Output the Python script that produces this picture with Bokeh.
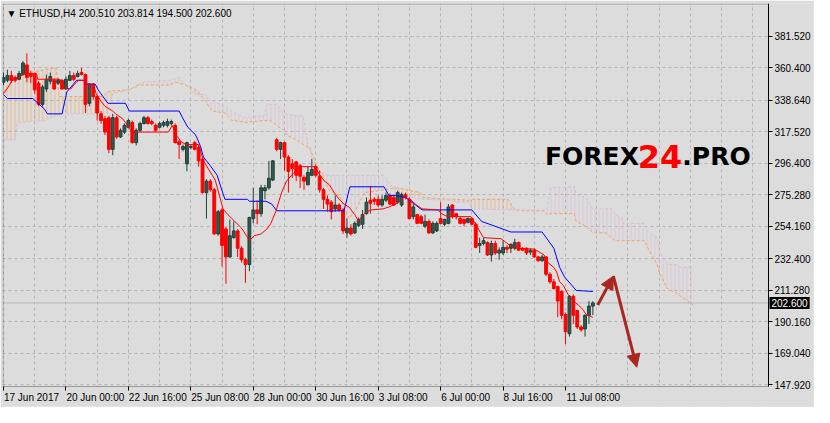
import numpy as np
import pandas as pd
from bokeh.plotting import figure
from bokeh.models import (Range1d, LinearAxis, FixedTicker, PrintfTickFormatter, Label,
                          Arrow, NormalHead, ColumnDataSource, Grid, BoxAnnotation)
from bokeh.embed import file_html
from bokeh.resources import INLINE

# ---------------- data ----------------
symbol = "ETHUSD,H4"
first_bar_time = "2017-06-17 08:00"

open_ = [350.6, 351.9, 355.1, 353.8, 352.6, 355.8, 362.2, 356.4, 355.8, 350.0,
         335.8, 346.1, 351.3, 351.9, 350.0, 351.9, 346.1, 351.9, 355.1, 354.5,
         357.1, 355.8, 336.5, 349.3, 341.0, 329.4, 326.2, 326.8, 305.6, 326.8,
         313.9, 317.2, 320.4, 323.6, 310.1, 318.4, 322.9, 326.8, 324.2, 321.7,
         320.4, 321.7, 321.7, 322.9, 321.7, 310.7, 305.6, 295.9, 306.9, 310.1,
         306.9, 299.1, 276.6, 284.3, 278.5, 248.9, 265.0, 252.2, 233.5, 246.4,
         250.9, 239.3, 231.6, 228.4, 259.2, 265.0, 262.5, 277.9, 279.8, 285.0,
         312.0, 305.6, 310.1, 300.4, 295.9, 297.2, 294.6, 286.9, 281.8, 288.2,
         294.0, 287.6, 278.5, 272.1, 270.2, 265.7, 268.3, 265.0, 249.6, 252.8,
         249.6, 254.7, 255.4, 262.5, 271.5, 272.1, 272.1, 268.3, 271.5, 274.7,
         273.4, 270.2, 268.3, 275.3, 272.1, 260.5, 261.8, 260.5, 254.1, 257.3,
         249.6, 250.9, 259.2, 255.4, 256.0, 268.3, 262.5, 259.2, 258.6, 256.7,
         259.2, 255.4, 241.2, 242.5, 243.2, 234.8, 242.5, 236.1, 236.1, 239.9,
         239.3, 239.3, 243.2, 239.3, 239.3, 236.7, 238.0, 233.5, 230.9, 233.5,
         221.9, 216.8, 213.6, 210.3, 194.9, 182.0, 207.1, 197.5, 186.5, 185.2,
         194.3, 200.51]
high = [357.1, 359.0, 358.3, 355.1, 358.3, 364.8, 369.9, 358.3, 357.1, 351.3,
        348.7, 355.8, 357.1, 353.2, 353.2, 352.6, 354.5, 358.3, 357.1, 358.3,
        360.3, 356.4, 350.0, 350.0, 342.3, 331.3, 328.1, 328.1, 329.4, 328.1,
        319.7, 322.9, 326.2, 324.9, 319.7, 324.2, 328.1, 328.1, 325.5, 322.9,
        324.2, 324.9, 326.2, 325.5, 322.9, 312.0, 308.8, 310.7, 308.8, 311.4,
        308.2, 300.4, 285.6, 285.6, 279.8, 265.0, 266.3, 253.5, 258.6, 257.3,
        252.2, 240.6, 232.9, 260.5, 279.8, 271.5, 281.8, 281.8, 297.9, 298.5,
        313.3, 310.7, 310.7, 301.7, 299.1, 297.9, 295.9, 288.2, 294.0, 299.1,
        295.3, 291.4, 279.8, 274.7, 271.5, 274.7, 269.5, 266.3, 259.2, 255.4,
        257.3, 259.9, 265.0, 273.4, 281.1, 273.4, 274.7, 274.7, 276.6, 276.0,
        274.7, 277.9, 276.6, 276.6, 273.4, 268.9, 262.5, 261.8, 261.8, 258.6,
        257.3, 257.3, 270.2, 259.2, 268.9, 268.9, 263.1, 260.5, 259.2, 259.9,
        259.9, 256.7, 246.4, 246.4, 243.8, 244.4, 244.4, 239.9, 244.4, 241.2,
        242.5, 245.7, 243.8, 239.9, 239.9, 239.3, 239.3, 234.2, 234.8, 234.0,
        223.2, 218.7, 214.2, 211.0, 196.2, 207.8, 208.4, 198.1, 187.8, 194.9,
        203.9, 203.814]
low = [348.7, 350.6, 350.0, 350.6, 351.9, 355.1, 350.6, 350.0, 342.9, 334.5,
       334.5, 344.2, 349.3, 345.5, 348.7, 345.5, 345.5, 351.3, 351.3, 353.8,
       355.1, 330.0, 334.5, 339.0, 324.9, 322.9, 315.2, 303.0, 301.7, 312.7,
       313.3, 315.9, 319.7, 309.5, 308.2, 317.2, 322.3, 322.3, 321.7, 317.2,
       319.7, 320.4, 320.4, 321.7, 309.5, 299.1, 304.3, 290.8, 305.6, 304.9,
       294.0, 276.0, 259.2, 277.3, 248.3, 247.7, 227.1, 215.5, 232.9, 245.7,
       233.5, 229.6, 216.1, 223.9, 256.0, 255.4, 260.5, 272.1, 278.5, 284.3,
       304.3, 299.1, 291.4, 276.6, 286.3, 284.3, 279.8, 278.5, 281.8, 287.6,
       286.9, 276.6, 265.7, 263.8, 258.6, 263.8, 263.8, 248.9, 246.4, 247.7,
       248.9, 253.5, 252.2, 261.8, 262.5, 268.3, 267.0, 267.0, 270.2, 268.3,
       267.6, 268.9, 267.0, 272.1, 258.6, 258.6, 255.4, 255.4, 252.8, 248.9,
       248.9, 250.2, 255.4, 254.1, 255.4, 259.2, 258.6, 255.4, 254.1, 256.0,
       254.7, 239.3, 236.1, 241.2, 234.2, 230.3, 234.8, 231.6, 234.8, 236.1,
       236.1, 238.0, 237.4, 237.4, 234.8, 234.8, 232.9, 230.3, 230.3, 220.6,
       215.5, 211.6, 193.0, 191.7, 175.0, 180.1, 188.5, 185.2, 183.3, 180.1,
       188.5, 194.5]
close = [353.8, 355.1, 351.9, 351.9, 356.4, 363.5, 353.8, 354.5, 345.5, 335.8,
         347.4, 352.6, 354.5, 346.1, 351.9, 346.1, 352.6, 355.1, 352.6, 356.4,
         355.8, 335.8, 349.3, 341.0, 330.0, 324.9, 317.2, 305.6, 326.8, 313.9,
         318.4, 321.7, 324.9, 310.1, 318.4, 322.9, 326.8, 322.9, 322.9, 318.4,
         322.9, 323.6, 324.2, 324.2, 310.1, 308.8, 307.5, 310.1, 307.5, 305.6,
         297.9, 276.6, 284.3, 278.5, 248.9, 263.8, 241.2, 233.5, 247.7, 250.9,
         239.3, 231.6, 228.4, 259.9, 265.0, 262.5, 279.8, 279.8, 286.3, 297.9,
         305.6, 310.1, 300.4, 290.8, 292.7, 288.2, 287.6, 284.3, 290.1, 292.1,
         288.2, 278.5, 272.1, 268.9, 263.8, 268.3, 265.0, 250.9, 252.8, 248.9,
         256.0, 258.6, 261.8, 270.2, 269.5, 270.8, 268.3, 272.1, 274.7, 268.9,
         268.3, 276.6, 275.3, 273.4, 259.2, 267.0, 256.0, 256.0, 257.3, 249.6,
         256.0, 256.0, 256.0, 258.6, 267.0, 260.5, 260.5, 256.0, 256.0, 259.2,
         255.4, 239.9, 242.5, 244.4, 234.8, 242.5, 236.1, 238.0, 239.9, 238.7,
         241.9, 243.2, 238.0, 238.0, 236.1, 238.0, 233.5, 230.9, 233.5, 221.9,
         216.8, 212.3, 203.9, 194.3, 183.3, 207.1, 194.3, 186.5, 184.6, 194.3,
         200.5, 202.6]

# Ichimoku lines, read at their break points (bar index, price)
tenkan_bar = [0, 1.25, 2.25, 3, 5.5, 8.5, 8.75, 14.25, 14.75, 15.5, 17.25, 18, 19.25, 20.5, 21.25,
              23, 23.75, 25, 26, 28, 28.75, 30.5, 31.25, 32.25, 33, 42.25, 43.25, 44.25, 45.5,
              46.75, 50, 50.5, 51.25, 53.5, 54.25, 56.25, 57.5, 59.25, 61, 62.25, 63, 64.25, 66,
              67.5, 68.5, 69.75, 71.25, 72.5, 74.25, 76, 79.75, 81.25, 82.25, 83.5, 84.75, 86,
              87.25, 88.5, 90, 91, 91.75, 93, 94.25, 97.25, 98.75, 100.5, 102.5, 104.25, 105.5,
              107.25, 111.25, 112.25, 113.75, 119.75, 121, 122.25, 123, 127.5, 129.75, 131, 136,
              138.5, 139.25, 141, 141.75, 142.5, 143.5, 144.75, 146, 147.25, 148.5, 149.25, 151]
tenkan_val = [342.9, 347.4, 351.9, 352.6, 356.4, 356.4, 352.6, 352.6, 351.9, 346.8, 346.1, 348.7,
              351.9, 351.9, 349.3, 349.3, 342.9, 337.8, 334.5, 331.3, 329.4, 326.2, 323.6, 319.7,
              317.2, 317.2, 321.7, 315.2, 310.7, 308.8, 308.8, 304.3, 297.9, 288.2, 285.0, 265.7,
              261.8, 257.3, 252.8, 247.7, 244.4, 247.7, 248.9, 252.2, 256.0, 263.8, 276.6, 284.3,
              289.5, 294.0, 294.0, 287.6, 284.3, 281.8, 276.6, 272.1, 268.9, 267.0, 261.8, 257.3,
              260.5, 263.8, 265.0, 265.7, 267.0, 268.9, 273.4, 272.1, 268.9, 265.7, 265.0, 262.5,
              260.5, 260.5, 255.4, 249.6, 246.4, 245.7, 241.2, 239.3, 238.7, 234.8, 230.3, 226.4,
              223.2, 216.8, 214.2, 207.8, 203.9, 201.3, 198.1, 194.9, 193.0]
kijun_bar = [0, 1, 7.5, 10.5, 11.25, 15, 16.25, 18.75, 20.5, 21.25, 23.5, 24.25, 26.75, 31.25,
             32.25, 45, 46, 47.25, 49.25, 50.5, 51.25, 53, 54.75, 55.75, 56.75, 62.5, 63, 67.25,
             68.75, 70, 87.25, 88.75, 97.5, 98.75, 100.5, 103, 107.25, 120, 122.5, 130, 138, 141,
             142.5, 143.75, 146.75, 151]
kijun_val = [342.3, 339.7, 339.7, 332.6, 329.4, 329.4, 344.2, 351.9, 351.9, 349.3, 349.3, 345.5,
             336.5, 336.5, 331.3, 331.3, 326.2, 320.4, 315.2, 307.5, 300.4, 294.6, 288.2, 279.8,
             272.1, 272.1, 270.8, 270.8, 268.9, 264.4, 264.4, 280.5, 280.5, 274.7, 274.7, 273.4,
             265.0, 265.0, 257.3, 250.2, 250.2, 239.3, 226.4, 220.0, 211.0, 210.3]
cloud_bar = [0, 1.75, 3, 3.5, 4.25, 6.75, 10.5, 13.5, 14.25, 25.5, 26.75, 28, 32.5, 34.25, 35.5,
             39.25, 42.5, 44.25, 45, 46.75, 49.25, 51.75, 53.5, 56.75, 58.5, 59.25, 61.75, 66.75,
             67.5, 68.5, 70, 71.75, 72.5, 75, 76.75, 78, 78.5, 80, 81, 83.5, 86, 88.5, 90, 92.5,
             97.5, 99.25, 101, 106.75, 107.5, 114.25, 116, 119.25, 120, 129.25, 131, 134.25, 138.5,
             139.25, 140, 146.25, 146.75, 149.25, 150, 151, 154.25, 156, 156.75, 158.5, 158.75,
             164.25, 165, 166, 167.5, 168, 169.25, 170, 172.5, 173.5, 176, 176.75]
span_a = [344.2, 350.6, 353.8, 354.5, 355.1, 357.1, 359.0, 360.3, 341.0, 341.0, 344.2, 344.8,
          345.5, 348.7, 348.7, 348.7, 348.7, 350.6, 350.0, 348.7, 345.5, 337.8, 331.3, 330.0,
          324.9, 324.9, 323.6, 324.9, 324.9, 324.9, 321.7, 318.4, 315.2, 312.0, 308.8, 306.9,
          306.9, 295.9, 291.4, 277.9, 274.7, 259.2, 263.8, 276.6, 278.5, 279.2, 279.8, 276.6,
          273.4, 272.1, 272.1, 271.5, 272.1, 272.1, 265.0, 264.4, 264.4, 261.8, 262.5, 262.5,
          257.3, 254.1, 252.2, 249.6, 249.6, 245.7, 244.4, 244.4, 244.4, 244.4, 239.9, 234.8,
          228.4, 223.2, 216.8, 212.3, 209.1, 207.1, 202.6, 201.3]
span_b = [312.0, 312.0, 312.0, 323.6, 323.6, 324.2, 324.9, 328.1, 329.4, 329.4, 329.4, 342.9,
          346.1, 347.4, 350.6, 351.3, 351.9, 353.2, 353.8, 348.7, 342.3, 342.3, 337.8, 334.5,
          331.3, 330.0, 326.8, 328.1, 335.8, 335.8, 335.8, 330.0, 329.4, 328.1, 328.1, 308.8,
          305.6, 288.2, 288.2, 288.2, 288.2, 288.2, 288.2, 288.2, 288.2, 281.8, 276.6, 272.1,
          272.1, 271.5, 270.2, 270.2, 265.7, 265.0, 265.0, 265.0, 265.0, 265.0, 279.8, 280.5,
          275.3, 273.4, 270.2, 265.7, 265.7, 265.7, 261.8, 259.2, 256.0, 256.0, 250.9, 248.9,
          246.4, 236.7, 232.9, 228.4, 228.4, 226.4, 226.4, 226.4]

# drawn forecast (arrows): bar index and price of the three points
forecast_bar = [152.25, 156.25, 162.25]
forecast_price = [201.3, 220.6, 159.5]

# price scale labels
price_ticks = [147.92, 169.04, 190.16, 211.28, 232.40, 254.16, 275.28, 296.40,
               317.52, 338.64, 360.40, 381.52]

# ---------------- layout / style ----------------
BG = "#DCDCDC"
GRID = "#B4B4B4"
BULL = "#2E5B4B"
BULL_LINE = "#22403A"
BEAR = "#FF0000"
ORANGE = "#F4A460"
THISTLE = "#D8BFD8"
ARROW = "#A8271F"
FONT = "Liberation Sans"

W, H = 814, 407
LB, RB, TB, BB = 2, 1, 3, 1
FW = W - LB - RB                 # frame hosts the chart plus both scales
FH = H - TB - BB
CW, CH = 766, 383                # chart area (inside the black border)
x0, xc = -0.25, 196.0            # chart spans bars x0 .. xc
yc, y1 = 146.6, 403.4            # chart spans prices yc .. y1
ppb = CW / (xc - x0)
ppu = CH / (y1 - yc)
x1 = x0 + FW / ppb
y0 = y1 - FH / ppu

n = len(close)
bars = np.arange(n)
o = np.array(open_); h = np.array(high); l = np.array(low); c = np.array(close)
up = c >= o

p = figure(width=W, height=H, x_range=Range1d(x0, x1), y_range=Range1d(y0, y1),
           output_backend="svg", toolbar_location=None,
           x_axis_location=None, y_axis_location="right",
           min_border_left=LB, min_border_right=RB, min_border_top=TB, min_border_bottom=BB,
           background_fill_color=BG, border_fill_color=BG, outline_line_color=None)
p.center = [r for r in p.center if not isinstance(r, Grid)]

grid_bars = list(range(0, 197, 8))
p.add_layout(Grid(dimension=0, ticker=FixedTicker(ticks=grid_bars), grid_line_color=GRID,
                  grid_line_dash="3 3", grid_line_width=1))
p.add_layout(Grid(dimension=1, ticker=FixedTicker(ticks=price_ticks), grid_line_color=GRID,
                  grid_line_dash="3 3", grid_line_width=1))
# scale strips: hide the grid there
p.add_layout(BoxAnnotation(left=xc, fill_color=BG, fill_alpha=1.0, line_color=None,
                           level="underlay"))
p.add_layout(BoxAnnotation(top=yc, fill_color=BG, fill_alpha=1.0, line_color=None,
                           level="underlay"))

# right price axis pinned to the chart's right border
ya = p.yaxis[0]
ya.fixed_location = xc
ya.bounds = (yc, y1)
ya.ticker = FixedTicker(ticks=price_ticks)
ya.formatter = PrintfTickFormatter(format="%.3f")
ya.major_tick_out = 4
ya.major_tick_in = 0
ya.minor_tick_out = 0
ya.minor_tick_in = 0
ya.major_label_standoff = 2
ya.major_label_text_font = FONT
ya.major_label_text_font_size = "10px"
ya.major_label_text_color = "black"
ya.axis_line_color = "black"

# time axis: tick marks at bars, labels left-aligned after the tick
times = pd.date_range(first_bar_time, periods=n, freq="4h")
label_bars = list(range(0, n, 16))
label_text = []
for k, b in enumerate(label_bars):
    t = times[b]
    if k == 0:
        label_text.append(f"{t.day} {t.strftime('%b %Y')}")
    else:
        label_text.append(f"{t.day} {t.strftime('%b %H:%M')}")

cw = {" ": 2.78, ":": 2.78, "J": 5.0, "l": 2.22}
def text_w(s, size=10):
    return sum(cw.get(ch, 5.56) for ch in s) * size / 10.0

label_centers = [round(b + (text_w(s) / 2 + 0.5) / ppb, 3) for b, s in zip(label_bars, label_text)]

ax_t = LinearAxis(ticker=FixedTicker(ticks=label_bars), fixed_location=yc, bounds=(x0, xc),
                  major_label_overrides={b: "" for b in label_bars},
                  major_label_text_font_size="0px", major_label_standoff=0,
                  major_tick_out=4, major_tick_in=0, minor_tick_out=0, minor_tick_in=0,
                  axis_line_color=None, major_tick_line_color="black")
p.add_layout(ax_t, "below")
ax_l = LinearAxis(ticker=FixedTicker(ticks=label_centers), fixed_location=yc,
                  major_label_overrides={cc: s for cc, s in zip(label_centers, label_text)},
                  major_tick_out=0, major_tick_in=0, minor_tick_out=0, minor_tick_in=0,
                  axis_line_color=None, major_tick_line_color=None, minor_tick_line_color=None,
                  major_label_standoff=5, major_label_text_font=FONT,
                  major_label_text_font_size="10px", major_label_text_color="black")
p.add_layout(ax_l, "below")

# ---------------- Ichimoku cloud ----------------
ca = np.array(span_a); cb = np.array(span_b)
top = np.maximum(ca, cb)
p.varea(x=cloud_bar, y1=cb, y2=top, fill_color=None, hatch_pattern="|", hatch_color=ORANGE,
        hatch_scale=4, hatch_weight=1, hatch_alpha=0.6)
p.varea(x=cloud_bar, y1=ca, y2=top, fill_color=None, hatch_pattern="|", hatch_color=THISTLE,
        hatch_scale=4, hatch_weight=1, hatch_alpha=0.7)
p.line(cloud_bar, span_a, line_color=ORANGE, line_width=1, line_dash="3 2")
p.line(cloud_bar, span_b, line_color=THISTLE, line_width=1, line_dash="3 2")

# current price line across the chart area
p.segment(x0=[x0], y0=[close[-1]], x1=[xc], y1=[close[-1]], line_color="#B8B8B8", line_width=1)

# ---------------- candles ----------------
src = ColumnDataSource(dict(x=bars, o=o, h=h, l=l, c=c,
                            top=np.maximum(o, c), bot=np.minimum(o, c),
                            fill=[BULL if u else BEAR for u in up],
                            edge=[BULL_LINE if u else BEAR for u in up]))
p.segment(x0="x", y0="l", x1="x", y1="h", line_color="edge", line_width=1, source=src)
p.vbar(x="x", width=0.72, top="top", bottom="bot", fill_color="fill", line_color="edge",
       line_width=1, source=src)

p.line(kijun_bar, kijun_val, line_color="#0000FF", line_width=1)
p.line(tenkan_bar, tenkan_val, line_color="#FF0000", line_width=1)

# forecast arrows
for k in range(2):
    p.add_layout(Arrow(end=NormalHead(size=13, fill_color=ARROW, line_color=ARROW),
                       x_start=forecast_bar[k], y_start=forecast_price[k],
                       x_end=forecast_bar[k + 1], y_end=forecast_price[k + 1],
                       line_color=ARROW, line_width=3))

# chart border (right side is the price axis line)
p.add_layout(BoxAnnotation(left=0.5, left_units="screen", right=xc,
                           bottom=yc, top=FH - 0.5, top_units="screen",
                           fill_color=None, line_color="black", line_width=1))

# price tag on the scale
p.add_layout(Label(x=xc, y=close[-1], x_offset=1, text=f"{close[-1]:.3f}",
                   text_color="white", text_font=FONT, text_font_size="10px",
                   text_baseline="middle", text_align="left",
                   background_fill_color="black", padding=2))

# header text
p.add_layout(Label(x=4, y=FH - 4, x_units="screen", y_units="screen",
                   text=f"\u25BC {symbol}  {open_[-1]:.3f} {high[-1]:.3f} {low[-1]:.3f} {close[-1]:.3f}",
                   text_font=FONT, text_font_size="10px", text_color="black",
                   text_baseline="top", text_align="left"))

# watermark
em = {"F": 0.632, "O": 0.850, "R": 0.770, "E": 0.683, "X": 0.774, "P": 0.733, ".": 0.380,
      "2": 0.696, "4": 0.696}
def bw(s, size):
    return sum(em[ch] for ch in s) * size
wm_x = 556 * CW / 785.0
wm_y = FH - 159 * CH / 399.0
parts = [("FOREX", "black", 25), ("24", "#FF0000", 32), (".PRO", "black", 25)]
xx = wm_x
for s, col, sz in parts:
    p.add_layout(Label(x=xx, y=wm_y, x_units="screen", y_units="screen", text=s,
                       text_font="DejaVu Sans", text_font_style="bold", text_font_size=f"{sz}px",
                       text_color=col, text_baseline="alphabetic", text_align="left"))
    xx += bw(s, sz)

open("out.html", "w").write(file_html(p, INLINE))
